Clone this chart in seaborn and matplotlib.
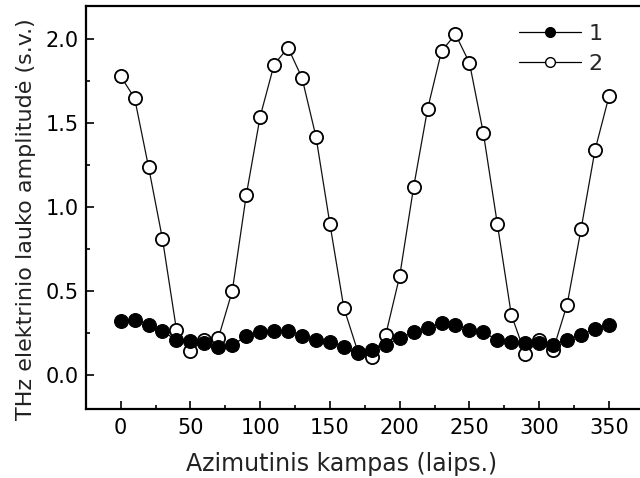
import numpy as np
import pandas as pd
import matplotlib
matplotlib.use("Agg")
import matplotlib.pyplot as plt
import seaborn as sns
from matplotlib.ticker import MultipleLocator
from matplotlib.lines import Line2D

angles = list(range(0, 360, 10))
series1 = [0.32, 0.33, 0.30, 0.26, 0.21, 0.205, 0.19, 0.17, 0.18, 0.23,
           0.255, 0.26, 0.26, 0.235, 0.21, 0.20, 0.165, 0.133, 0.15, 0.18,
           0.22, 0.255, 0.28, 0.31, 0.30, 0.27, 0.255, 0.21, 0.195, 0.19,
           0.19, 0.18, 0.21, 0.24, 0.275, 0.30]
series2 = [1.78, 1.65, 1.24, 0.81, 0.27, 0.145, 0.21, 0.22, 0.50, 1.07,
           1.54, 1.85, 1.95, 1.77, 1.42, 0.90, 0.40, 0.14, 0.11, 0.24,
           0.59, 1.12, 1.585, 1.93, 2.03, 1.86, 1.44, 0.90, 0.36, 0.125,
           0.21, 0.15, 0.42, 0.87, 1.34, 1.66]
labels = ["1", "2"]
xlabel = "Azimutinis kampas (laips.)"
ylabel = "THz elektrinio lauko amplitudė (s.v.)"

sns.set_theme(style="ticks")
plt.rcParams['font.family'] = ['DejaVu Sans']

fig = plt.figure(figsize=(6.4, 4.78), dpi=100)
ax = fig.add_axes([0.134, 0.145, 0.872, 0.843])

sns.lineplot(x=angles, y=series2, ax=ax, color="#111111", lw=0.9,
             marker="o", markersize=9.5, markerfacecolor="white",
             markeredgecolor="black", markeredgewidth=1.3, zorder=2)
sns.lineplot(x=angles, y=series1, ax=ax, color="black", lw=0.9,
             marker="o", markersize=10, markerfacecolor="black",
             markeredgecolor="black", zorder=3)

ax.set_xlim(-25, 375)
ax.set_ylim(-0.2, 2.2)
ax.xaxis.set_major_locator(MultipleLocator(50))
ax.xaxis.set_minor_locator(MultipleLocator(25))
ax.yaxis.set_major_locator(MultipleLocator(0.5))
ax.yaxis.set_minor_locator(MultipleLocator(0.25))
ax.set_xticks(range(0, 351, 50))
ax.tick_params(which="both", direction="in", color="black", width=1.2,
               labelsize=15, labelcolor="black")
ax.tick_params(axis="x", pad=7)
ax.tick_params(axis="y", pad=5)
ax.tick_params(which="major", length=6)
ax.tick_params(which="minor", length=3)
ax.tick_params(top=False, right=False)
for s in ax.spines.values():
    s.set_linewidth(1.6)
    s.set_color("black")

ax.set_xlabel(xlabel, fontsize=17, color="#222222")
ax.set_ylabel(ylabel, fontsize=16, color="#222222")
ax.xaxis.set_label_coords(0.459, -0.108)
ax.yaxis.set_label_coords(-0.09, 0.47)

handles = [
    Line2D([], [], color="black", lw=0.9, marker="o", markersize=7,
           markerfacecolor="black", markeredgecolor="black"),
    Line2D([], [], color="black", lw=0.9, marker="o", markersize=7,
           markerfacecolor="white", markeredgecolor="black"),
]
ax.legend(handles, labels, loc="upper right", bbox_to_anchor=(0.962, 1.005),
          frameon=False, fontsize=16, handlelength=2.8, handletextpad=0.35,
          labelspacing=0.45)

fig.savefig("out.png", dpi=100)
